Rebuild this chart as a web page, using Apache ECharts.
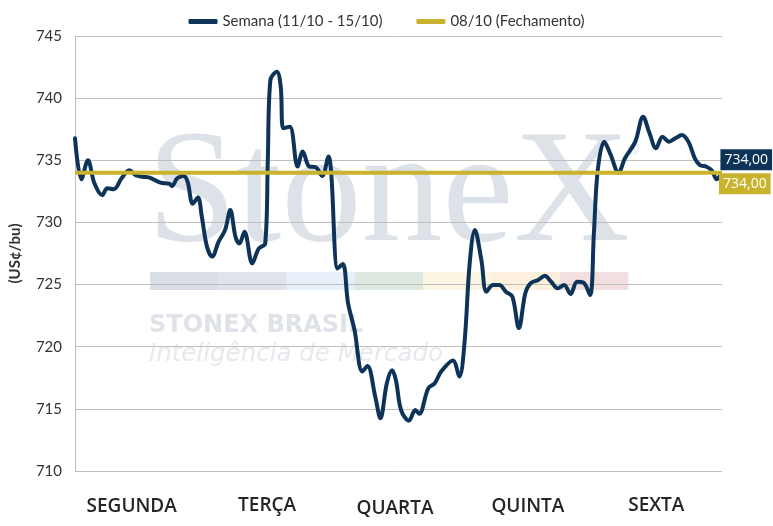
<!DOCTYPE html>
<html>
<head>
<meta charset="utf-8">
<script src="https://cdn.jsdelivr.net/npm/echarts@6/dist/echarts.min.js"></script>
<style>html,body{margin:0;padding:0;background:#fff}#c{width:773px;height:526px}</style>
</head>
<body>
<div id="c"></div>
<script>
// Day labels
const days = ['SEGUNDA', 'TERÇA', 'QUARTA', 'QUINTA', 'SEXTA'];
// Y axis range / ticks
const yTicks = [710, 715, 720, 725, 730, 735, 740, 745];
// Week series: [position in days (0..5), price US¢/bu]
const weekX = [0.00,0.05,0.10,0.15,0.21,0.25,0.30,0.36,0.42,0.47,0.52,0.57,0.66,0.73,0.75,0.79,0.84,0.87,0.91,0.95,0.98,1.02,1.06,1.11,1.16,1.20,1.24,1.27,1.31,1.37,1.42,1.47,1.49,1.51,1.56,1.59,1.61,1.66,1.72,1.76,1.81,1.86,1.91,1.96,1.98,2.03,2.07,2.11,2.16,2.22,2.26,2.32,2.36,2.41,2.45,2.48,2.52,2.58,2.63,2.66,2.73,2.78,2.83,2.92,2.97,3.01,3.05,3.09,3.14,3.18,3.23,3.28,3.33,3.38,3.43,3.48,3.52,3.58,3.63,3.68,3.73,3.78,3.83,3.88,3.93,3.98,4.01,4.04,4.09,4.14,4.20,4.25,4.33,4.39,4.44,4.49,4.54,4.59,4.64,4.69,4.74,4.79,4.83,4.88,4.92,4.96,4.98];
const weekY = [736.77,733.47,735.00,733.15,732.20,732.75,732.67,733.55,734.20,733.80,733.68,733.63,733.20,733.10,732.93,733.55,733.74,733.28,731.50,732.00,730.46,728.05,727.25,728.45,729.40,731.00,728.85,728.30,729.26,726.70,727.90,728.30,735.00,741.46,742.13,740.92,737.57,737.70,734.50,735.70,734.50,734.44,733.74,735.30,733.96,726.30,726.65,723.50,721.35,718.00,718.45,716.00,714.25,717.06,718.10,717.30,714.90,714.05,714.90,714.60,716.65,717.06,718.00,718.90,717.60,720.30,726.70,729.40,727.00,724.43,724.97,724.97,724.43,724.03,721.50,724.30,725.10,725.37,725.70,725.23,724.70,724.97,724.24,725.23,725.15,724.16,729.13,734.22,736.50,735.43,734.00,735.16,736.50,738.50,737.17,735.97,736.90,736.50,736.77,737.03,736.50,735.16,734.62,734.48,734.20,733.47,733.68];
// Previous close (08/10)
const closeValue = 734.00;
const closeX = [0, 5];
const seriesNames = ['Semana (11/10 - 15/10)', '08/10 (Fechamento)'];
const endLabelText = '734,00';

const NAVY = '#0e3358';
const GOLD = '#c9b22e';

const chart = echarts.init(document.getElementById('c'), null, {renderer: 'canvas'});

const weekData = weekX.map((x, i) => [x, weekY[i]]);
const closeData = closeX.map(x => [x, closeValue]);

const rich = {
  r0: {fontFamily: 'Open Sans', fontSize: 19, fontWeight: 600, color: '#262626', padding: [1, 16, 0, 0]},
  r1: {fontFamily: 'Open Sans', fontSize: 19, fontWeight: 600, color: '#262626', padding: [0, 4, 0, 0]},
  r2: {fontFamily: 'Open Sans', fontSize: 19, fontWeight: 600, color: '#262626', padding: [3, 7, 0, 0]},
  r3: {fontFamily: 'Open Sans', fontSize: 19, fontWeight: 600, color: '#262626', padding: [1, 0, 0, 0]},
  r4: {fontFamily: 'Open Sans', fontSize: 19, fontWeight: 600, color: '#262626', padding: [0, 2, 0, 0]}
};

const segColors = ['#d9dee6', '#dfe4eb', '#e7eff8', '#dde8e1', '#fbf6e1', '#fdf1de', '#f3dfe0'];
const graphics = [];
// watermark: large logo text
graphics.push({type: 'text', left: 147, top: 117, z: -10, silent: true,
  style: {text: 'StoneX', fontFamily: 'Liberation Serif', fontSize: 161, fill: '#dde2e9'}});
graphics.push({type: 'text', left: 628, top: 143, z: -10, silent: true,
  style: {text: '®', fontFamily: 'Open Sans', fontSize: 14, fill: '#dde2e9'}});
segColors.forEach((c, i) => {
  graphics.push({type: 'rect', z: -10, silent: true,
    shape: {x: 150 + i * 68.3, y: 272, width: 68.6, height: 18}, style: {fill: c}});
});
graphics.push({type: 'text', left: 149, top: 314, z: -10, silent: true,
  style: {text: 'STONEX BRASIL', fontFamily: 'DejaVu Sans', fontWeight: 700, fontSize: 24, fill: '#dfe3e9'}});
graphics.push({type: 'text', left: 149, top: 342, z: -10, silent: true,
  style: {text: 'Inteligência de Mercado', fontFamily: 'DejaVu Sans', fontStyle: 'italic', fontWeight: 300, fontSize: 24.5, fill: '#e6e9ed'}});

chart.setOption({
  backgroundColor: '#fff',
  animation: false,
  graphic: graphics,
  legend: {
    top: 9, left: 'center', itemWidth: 29, itemHeight: 5, itemGap: 34, icon: 'roundRect',
    textStyle: {fontFamily: 'Lato', fontSize: 15, color: '#333'},
    data: seriesNames
  },
  grid: {left: 71, right: 51, top: 36, bottom: 55},
  xAxis: [
    {type: 'value', min: 0, max: 5, show: false},
    {type: 'category', data: days, boundaryGap: true, position: 'bottom',
      axisLine: {show: false}, axisTick: {show: false},
      axisLabel: {margin: 25, formatter: (v, i) => '{r' + i + '|' + v + '}', rich: rich}}
  ],
  yAxis: {
    type: 'value', min: yTicks[0], max: yTicks[yTicks.length - 1], interval: 5,
    name: '(US¢/bu)', nameLocation: 'middle', nameGap: 52, nameRotate: 90,
    nameTextStyle: {fontFamily: 'Lato', fontSize: 15, fontWeight: 'bold', color: '#333'},
    axisLine: {show: true, lineStyle: {color: '#bfbfbf', width: 1}},
    axisTick: {show: false},
    axisLabel: {margin: 13, fontFamily: 'Lato', fontSize: 15, color: '#333'},
    splitLine: {lineStyle: {color: '#bfbfbf', width: 1}}
  },
  series: [
    {
      name: seriesNames[0], type: 'line', xAxisIndex: 0, data: weekData, smooth: 0.35,
      showSymbol: false, symbol: 'none', z: 3,
      lineStyle: {color: NAVY, width: 4, cap: 'round', join: 'round'},
      itemStyle: {color: NAVY},
      endLabel: {show: true, formatter: endLabelText, distance: 1, offset: [0, -17],
        backgroundColor: NAVY, color: '#fff', padding: [4, 4, 3, 4],
        fontFamily: 'Open Sans', fontSize: 14}
    },
    {
      name: seriesNames[1], type: 'line', xAxisIndex: 0, data: closeData,
      showSymbol: false, symbol: 'none', z: 4,
      lineStyle: {color: GOLD, width: 4},
      itemStyle: {color: GOLD},
      endLabel: {show: true, formatter: endLabelText, distance: 0, offset: [-3, 11],
        backgroundColor: GOLD, color: '#fff', padding: [4, 4, 3, 4],
        fontFamily: 'Open Sans', fontSize: 14}
    }
  ]
});
</script>
</body>
</html>
